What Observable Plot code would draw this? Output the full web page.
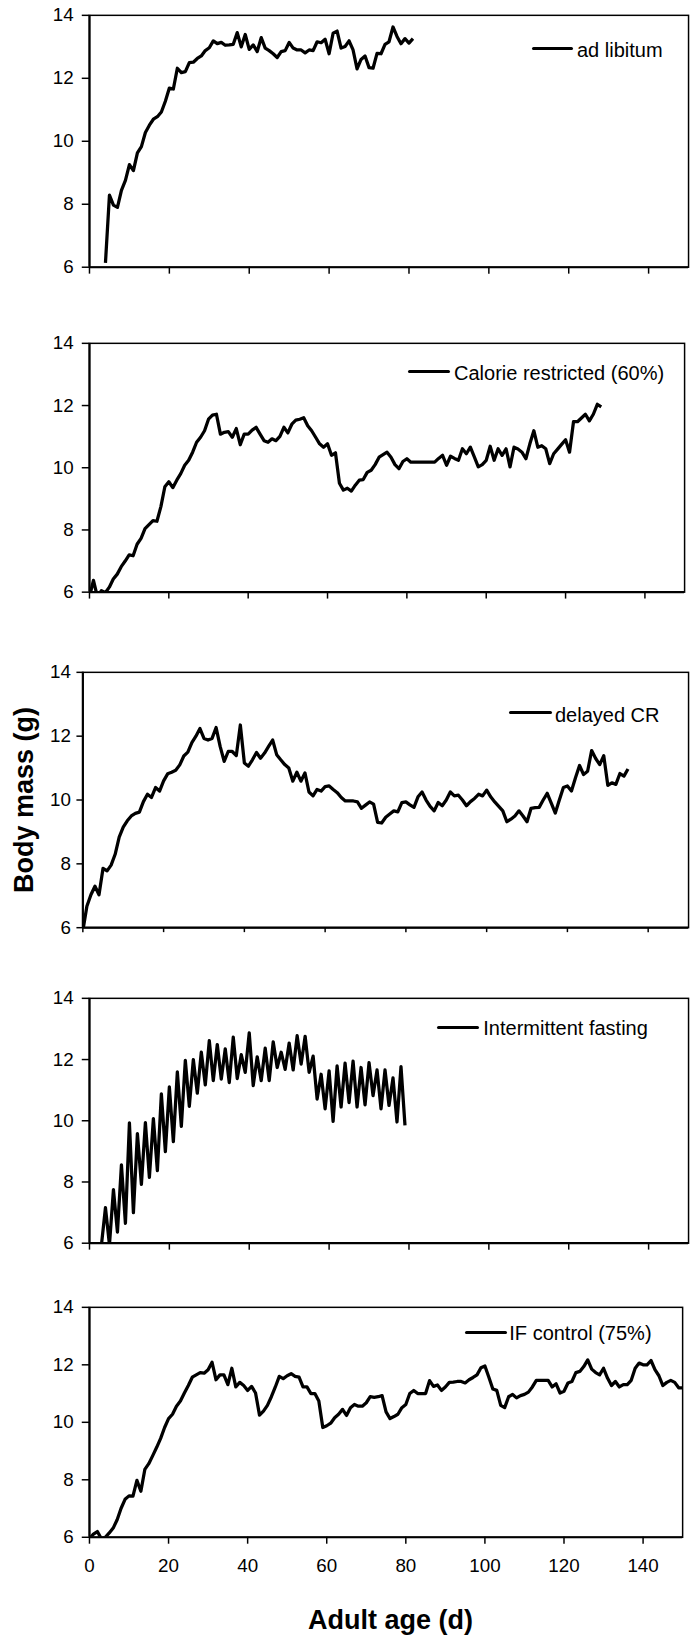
<!DOCTYPE html>
<html><head><meta charset="utf-8">
<script src="https://cdn.jsdelivr.net/npm/d3@7"></script>
<script src="https://cdn.jsdelivr.net/npm/@observablehq/plot@0.6"></script>
<style>
html,body{margin:0;padding:0;background:#fff;overflow:hidden;}
#chart{position:relative;width:694px;height:1639px;overflow:hidden;background:#fff;font-family:"Liberation Sans",Arial,sans-serif;color:#000;}
#chart svg{position:absolute;left:0;}
.lbl{position:absolute;white-space:nowrap;line-height:normal;color:#000;}
.sw{position:absolute;height:3.6px;background:#000;border-radius:1.8px;}
</style></head><body><div id="chart"></div>
<script>
// ---- data (body mass in g, one value per day of adult age) ----
const seriesNames = ["ad libitum", "Calorie restricted (60%)", "delayed CR", "Intermittent fasting", "IF control (75%)"];
const yTicks = [6, 8, 10, 12, 14];
const xTicks = [0, 20, 40, 60, 80, 100, 120, 140];
const xTitle = "Adult age (d)";
const yTitle = "Body mass (g)";

const adLibitumStart = 4;
const adLibitumMass = [6.14, 8.29, 7.97, 7.90, 8.44, 8.76, 9.26, 9.07, 9.63, 9.83, 10.28, 10.51, 10.70, 10.78, 10.93, 11.27, 11.69, 11.66, 12.32, 12.18, 12.21, 12.50, 12.51, 12.63, 12.71, 12.88, 12.97, 13.19, 13.10, 13.14, 13.05, 13.06, 13.08, 13.45, 13.00, 13.39, 12.92, 13.06, 12.85, 13.29, 12.96, 12.88, 12.78, 12.66, 12.85, 12.88, 13.14, 12.96, 12.90, 12.90, 12.81, 12.90, 12.88, 13.16, 13.13, 13.24, 12.78, 13.43, 13.50, 12.96, 13.01, 13.19, 12.90, 12.30, 12.60, 12.71, 12.34, 12.32, 12.79, 12.78, 13.08, 13.16, 13.63, 13.33, 13.10, 13.26, 13.12, 13.26];

const calorieStart = 0;
const calorieMass = [5.85, 6.38, 5.85, 6.05, 5.98, 6.16, 6.42, 6.58, 6.82, 7.00, 7.20, 7.17, 7.54, 7.73, 8.04, 8.17, 8.30, 8.28, 8.75, 9.39, 9.55, 9.36, 9.60, 9.81, 10.08, 10.24, 10.50, 10.82, 10.98, 11.19, 11.56, 11.69, 11.72, 11.08, 11.14, 11.16, 10.98, 11.26, 10.74, 11.08, 11.08, 11.21, 11.30, 11.08, 10.87, 10.82, 10.93, 10.87, 11.01, 11.30, 11.12, 11.40, 11.53, 11.56, 11.61, 11.35, 11.19, 10.98, 10.77, 10.66, 10.77, 10.40, 10.48, 9.50, 9.28, 9.34, 9.25, 9.44, 9.60, 9.62, 9.85, 9.92, 10.10, 10.34, 10.42, 10.50, 10.34, 10.10, 9.97, 10.20, 10.29, 10.18, 10.18, 10.18, 10.18, 10.18, 10.18, 10.18, 10.30, 10.40, 10.08, 10.37, 10.30, 10.24, 10.61, 10.45, 10.66, 10.35, 10.03, 10.10, 10.24, 10.69, 10.24, 10.61, 10.40, 10.61, 10.03, 10.66, 10.60, 10.50, 10.29, 10.77, 11.19, 10.66, 10.71, 10.61, 10.13, 10.45, 10.60, 10.75, 10.90, 10.50, 11.48, 11.48, 11.60, 11.72, 11.51, 11.72, 12.04, 11.96];

const delayedStart = 0;
const delayedMass = [5.90, 6.67, 7.03, 7.30, 7.03, 7.86, 7.78, 7.96, 8.30, 8.84, 9.15, 9.35, 9.50, 9.58, 9.62, 9.95, 10.18, 10.08, 10.39, 10.28, 10.60, 10.82, 10.87, 10.93, 11.10, 11.38, 11.50, 11.80, 12.00, 12.24, 11.93, 11.88, 11.93, 12.27, 11.68, 11.21, 11.52, 11.52, 11.39, 12.35, 11.16, 11.06, 11.26, 11.49, 11.31, 11.47, 11.68, 11.88, 11.42, 11.26, 11.11, 11.00, 10.59, 10.87, 10.59, 10.85, 10.25, 10.13, 10.33, 10.28, 10.42, 10.44, 10.33, 10.23, 10.08, 9.97, 9.97, 9.97, 9.94, 9.74, 9.84, 9.94, 9.87, 9.30, 9.28, 9.46, 9.56, 9.66, 9.63, 9.92, 9.94, 9.85, 9.77, 10.10, 10.25, 10.00, 9.80, 9.66, 9.92, 9.82, 10.00, 10.25, 10.13, 10.15, 10.00, 9.82, 9.95, 10.05, 10.18, 10.13, 10.31, 10.10, 9.94, 9.80, 9.66, 9.32, 9.40, 9.50, 9.66, 9.50, 9.32, 9.74, 9.76, 9.77, 10.00, 10.21, 9.90, 9.59, 10.00, 10.39, 10.44, 10.28, 10.70, 11.08, 10.80, 10.90, 11.55, 11.30, 11.11, 11.39, 10.46, 10.54, 10.49, 10.83, 10.75, 10.97];

const fastingStart = 3;
const fastingMass = [5.95, 7.16, 5.95, 7.75, 6.36, 8.56, 6.65, 9.93, 7.00, 9.58, 7.92, 9.94, 8.15, 10.07, 8.37, 10.88, 8.99, 11.11, 9.32, 11.60, 9.82, 11.97, 10.47, 12.00, 10.90, 12.24, 11.17, 12.62, 11.31, 12.49, 11.36, 12.35, 11.25, 12.73, 11.38, 12.16, 11.58, 12.87, 11.15, 12.09, 11.31, 12.37, 11.31, 12.58, 11.74, 12.24, 11.68, 12.54, 11.66, 12.78, 11.85, 12.76, 11.58, 12.11, 10.71, 11.52, 10.39, 11.63, 9.98, 11.79, 10.45, 11.88, 10.59, 11.95, 10.45, 11.74, 10.52, 11.90, 10.82, 11.66, 10.39, 11.66, 10.50, 11.40, 9.96, 11.77, 9.85];

const ifControlStart = 0;
const ifControlMass = [5.95, 6.11, 6.20, 5.95, 6.00, 6.15, 6.32, 6.61, 7.01, 7.32, 7.44, 7.43, 7.98, 7.60, 8.36, 8.56, 8.84, 9.13, 9.44, 9.82, 10.13, 10.28, 10.56, 10.74, 11.02, 11.28, 11.57, 11.65, 11.73, 11.71, 11.83, 12.09, 11.48, 11.65, 11.65, 11.31, 11.88, 11.23, 11.39, 11.28, 11.11, 11.25, 11.02, 10.25, 10.39, 10.59, 10.89, 11.23, 11.60, 11.52, 11.62, 11.69, 11.60, 11.57, 11.23, 11.23, 11.00, 11.00, 10.74, 9.82, 9.88, 9.97, 10.16, 10.28, 10.45, 10.24, 10.51, 10.62, 10.56, 10.56, 10.68, 10.89, 10.87, 10.89, 10.93, 10.36, 10.13, 10.20, 10.28, 10.51, 10.62, 11.00, 11.11, 11.00, 11.00, 11.00, 11.45, 11.25, 11.30, 11.11, 11.23, 11.39, 11.40, 11.42, 11.42, 11.37, 11.48, 11.56, 11.65, 11.90, 11.96, 11.57, 11.16, 11.11, 10.59, 10.51, 10.89, 10.97, 10.85, 10.93, 10.97, 11.05, 11.23, 11.46, 11.46, 11.46, 11.46, 11.23, 11.34, 11.02, 11.08, 11.37, 11.42, 11.73, 11.77, 11.94, 12.17, 11.85, 11.73, 11.65, 11.88, 11.54, 11.28, 11.42, 11.23, 11.31, 11.31, 11.46, 11.88, 12.06, 12.00, 12.00, 12.15, 11.83, 11.62, 11.28, 11.39, 11.46, 11.39, 11.20, 11.20];

// ---- layout (pixel positions of each panel's frame) ----
const FONT = '"Liberation Sans", Arial, sans-serif';
const panels = [
  {name: seriesNames[0], start: adLibitumStart, mass: adLibitumMass, top: 14.7, bottom: 269.5, left: 90, right: 696, tick: 7.3, pad: 8.7, xtick: 7, leg: {x1: 532, x2: 573, y: 48.3, tx: 577, base: 57.3}},
  {name: seriesNames[1], start: calorieStart, mass: calorieMass, top: 343.3, bottom: 595, left: 90, right: 692, tick: 7.3, pad: 8.7, xtick: 7, leg: {x1: 408.3, x2: 450, y: 371.7, tx: 454, base: 380.5}},
  {name: seriesNames[2], start: delayedStart, mass: delayedMass, top: 671.7, bottom: 930, left: 83.3, right: 696, tick: 6, pad: 6, xtick: 5, leg: {x1: 509.3, x2: 551.7, y: 712.7, tx: 555, base: 721.7}},
  {name: seriesNames[3], start: fastingStart, mass: fastingMass, top: 998.3, bottom: 1246, left: 90, right: 696, tick: 7.3, pad: 8.7, xtick: 7, leg: {x1: 436.7, x2: 479, y: 1027.3, tx: 483.3, base: 1035}},
  {name: seriesNames[4], start: ifControlStart, mass: ifControlMass, top: 1306.7, bottom: 1539.3, left: 90, right: 690, tick: 7.3, pad: 8.7, xtick: 7, leg: {x1: 465, x2: 506.7, y: 1332.3, tx: 509.3, base: 1340}, labels: true}
];

const root = document.getElementById("chart");

panels.forEach((p) => {
  const mt = 14, mb = p.labels ? 50 : 14;
  const width = 702;
  const height = mt + (p.bottom - p.top) + mb;
  const data = p.mass.map((m, k) => ({day: p.start + k, mass: m}));
  const svg = Plot.plot({
    width, height,
    marginLeft: p.left, marginRight: width - p.right, marginTop: mt, marginBottom: mb,
    x: {domain: [0, 150], axis: null},
    y: {domain: [6, 14], axis: null},
    style: {fontFamily: FONT, fontSize: "19px", background: "transparent", color: "#000", overflow: "visible"},
    marks: [
      Plot.line(data, {x: "day", y: "mass", stroke: "#000", strokeWidth: 3.3, strokeLinejoin: "round", strokeLinecap: "butt", clip: true}),
      Plot.frame({stroke: "#000", strokeWidth: 1.5}),
      Plot.ruleX([0], {stroke: "#000", strokeWidth: 2.2}),
      Plot.ruleY([6], {stroke: "#000", strokeWidth: 2.2}),
      Plot.axisY({ticks: yTicks, tickSize: p.tick, tickPadding: p.pad, strokeWidth: 1.5, fontSize: 19, label: null, tickFormat: (d) => String(d)}),
      Plot.axisX({ticks: xTicks, tickSize: p.xtick, tickPadding: 15, strokeWidth: 1.5, fontSize: 19, label: null, tickFormat: p.labels ? (d) => String(d) : () => ""})
    ]
  });
  svg.style.top = (p.top - mt) + "px";
  root.appendChild(svg);

  // legend: swatch + name
  const sw = document.createElement("div");
  sw.className = "sw";
  sw.style.left = p.leg.x1 + "px";
  sw.style.width = (p.leg.x2 - p.leg.x1) + "px";
  sw.style.top = (p.leg.y - 1.8) + "px";
  root.appendChild(sw);
  const t = document.createElement("div");
  t.className = "lbl";
  t.style.fontSize = "20px";
  t.style.left = p.leg.tx + "px";
  t.style.top = (p.leg.base - 0.905 * 20) + "px";
  t.textContent = p.name;
  root.appendChild(t);
});

// axis titles
const xt = document.createElement("div");
xt.className = "lbl";
xt.style.fontSize = "27px";
xt.style.fontWeight = "bold";
xt.style.left = "390.5px";
xt.style.top = (1629.5 - 0.905 * 27) + "px";
xt.style.transform = "translateX(-50%)";
xt.textContent = xTitle;
root.appendChild(xt);

const yt = document.createElement("div");
yt.className = "lbl";
yt.style.fontSize = "27px";
yt.style.fontWeight = "bold";
yt.style.left = "23.6px";
yt.style.top = "800px";
yt.style.transform = "translate(-50%, -50%) rotate(-90deg)";
yt.textContent = yTitle;
root.appendChild(yt);
</script>
</body></html>
